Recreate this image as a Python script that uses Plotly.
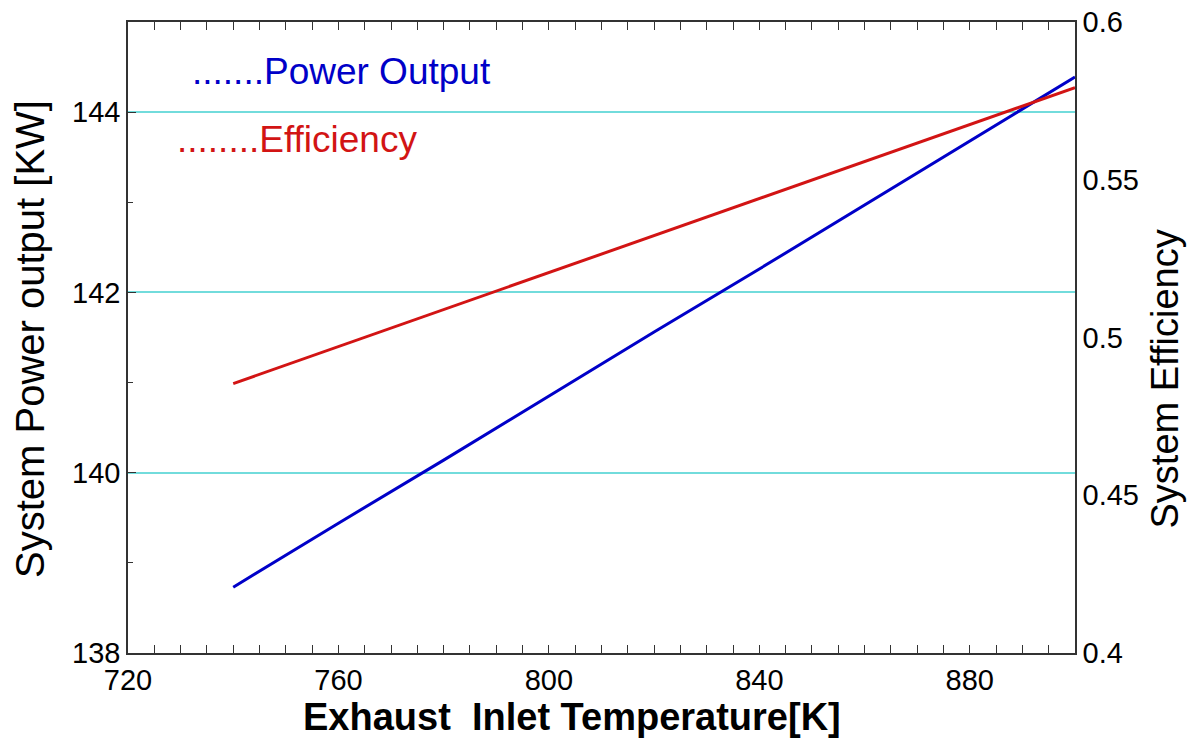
import plotly.graph_objects as go

# Exhaust inlet temperature sweep [K]
temperature_k = [740, 760, 780, 800, 820, 840, 860, 880, 900]
# System power output [kW]
power_kw = [138.73, 139.44, 140.14, 140.85, 141.56, 142.26, 142.97, 143.68, 144.39]
# System efficiency [-]
efficiency = [0.4854, 0.4971, 0.5088, 0.5206, 0.5323, 0.5440, 0.5557, 0.5675, 0.5792]

x_ticks = [720, 760, 800, 840, 880]
power_ticks = [138, 140, 142, 144]
eff_ticks = [0.4, 0.45, 0.5, 0.55, 0.6]
eff_tick_text = ["0.4", "0.45", "0.5", "0.55", "0.6"]

FONT = "Arial, 'Liberation Sans', sans-serif"
BLUE = "#0000c8"
RED = "#d21414"
GRID = "#72dcdc"

fig = go.Figure()
fig.add_trace(go.Scatter(x=temperature_k, y=power_kw, mode="lines",
                         line=dict(color=BLUE, width=3), yaxis="y",
                         name="Power Output", showlegend=False))
fig.add_trace(go.Scatter(x=temperature_k, y=efficiency, mode="lines",
                         line=dict(color=RED, width=3), yaxis="y2",
                         name="Efficiency", showlegend=False))

fig.update_layout(
    width=1192, height=745,
    margin=dict(l=128, r=117, t=22, b=92),
    paper_bgcolor="white", plot_bgcolor="white",
    font=dict(family=FONT, size=29, color="black"),
    xaxis=dict(
        range=[720, 900], tickvals=x_ticks, automargin=False,
        ticks="inside", ticklen=8, tickwidth=1, tickcolor="#333",
        minor=dict(dtick=5, ticks="inside", ticklen=5, tickcolor="#333"),
        showline=True, linecolor="#333", linewidth=1.5, mirror="allticks",
        showgrid=False, zeroline=False,
        tickfont=dict(size=29),
    ),
    yaxis=dict(
        range=[138, 145], tickvals=power_ticks, automargin=False,
        ticks="inside", ticklen=8, tickcolor="#333",
        minor=dict(dtick=1, ticks="inside", ticklen=5, tickcolor="#333"),
        showline=True, linecolor="#333", linewidth=1.5, mirror=True,
        showgrid=True, gridcolor=GRID, gridwidth=1.5, zeroline=False,
        tickfont=dict(size=29),
    ),
    yaxis2=dict(
        range=[0.4, 0.6], tickvals=eff_ticks, ticktext=eff_tick_text,
        overlaying="y", side="right", ticks="", automargin=False,
        showline=True, linecolor="#333", linewidth=1.5,
        showgrid=False, zeroline=False,
        tickfont=dict(size=29),
    ),
)

annotations = [
    dict(text="System Power output [KW]", x=-0.1035, y=0.4976, textangle=-90,
         xanchor="center", yanchor="middle", font=dict(size=40, color="black")),
    dict(text="System Efficiency", x=1.095, y=0.435, textangle=-90,
         xanchor="center", yanchor="middle", font=dict(size=38, color="black")),
    dict(text="<b>Exhaust\u00a0 Inlet Temperature[K]</b>", x=0.4689, y=-0.1016,
         xanchor="center", yanchor="middle", font=dict(size=38, color="black")),
    dict(text=".......Power Output", x=0.0655, y=0.922,
         xanchor="left", yanchor="middle", font=dict(size=37, color=BLUE)),
    dict(text="........Efficiency", x=0.0496, y=0.814,
         xanchor="left", yanchor="middle", font=dict(size=37, color=RED)),
]
for a in annotations:
    a.update(xref="paper", yref="paper", showarrow=False)
fig.update_layout(annotations=annotations)

fig.write_html("out.html")
